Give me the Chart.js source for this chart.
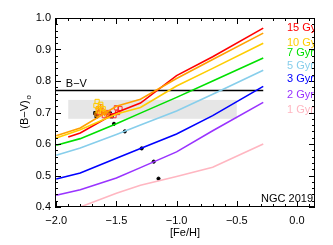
<!DOCTYPE html>
<html>
<head>
<meta charset="utf-8">
<script src="https://cdn.jsdelivr.net/npm/chart.js@4.4.1/dist/chart.umd.min.js"></script>
<style>
  body { margin: 0; background: #fff; }
  canvas { display: block; }
</style>
</head>
<body>
<canvas id="chart" width="333" height="245"></canvas>
<script>
// model grid in [Fe/H]
const feH = [-2.0, -1.9, -1.8, -1.5, -1.3, -1.0, -0.7, -0.28];

// (B-V)o model colours per age
const bv15 = [null, 0.622, 0.635, 0.700, 0.730, 0.817, 0.877, 0.968];
const bv12 = [0.626, null, 0.651, 0.720, 0.742, 0.808, 0.868, 0.952];
const bv10 = [0.619, null, 0.645, 0.695, 0.716, 0.784, 0.840, 0.920];
const bv7 = [0.596, null, 0.617, 0.664, 0.698, 0.748, 0.800, 0.873];
const bv5 = [0.564, null, 0.587, 0.630, 0.660, 0.705, 0.758, 0.834];
const bv3 = [0.489, null, 0.508, 0.555, 0.586, 0.632, 0.690, 0.783];
const bv2 = [0.437, null, 0.455, 0.492, 0.525, 0.575, 0.642, 0.732];
const bv1 = [0.370, null, 0.400, 0.444, 0.469, 0.497, 0.526, 0.600];

const ageLabels = ['15 Gyr', '10 Gyr', '7 Gyr', '5 Gyr', '3 Gyr', '2 Gyr', '1 Gyr'];

// observed B-V of the cluster and its band
const obsBV = 0.77;
const obsFeH = [-2.01, -0.28];
const bandFeH = [-1.9, -0.5];
const bandBV = [0.68, 0.74];

// black dots on each age line
const dotFeH = [-1.52, -1.43, -1.29, -1.19, -1.15];
const dotBV = [0.664, 0.640, 0.586, 0.544, 0.490];

// measurements of NGC 2019
const blkFeH = [-1.675, -1.665, -1.555, -1.54];
const blkBV = [0.698, 0.688, 0.697, 0.688];
const redFeH = [-1.64, -1.60, -1.57, -1.55, -1.50, -1.49, -1.52, -1.47];
const redBV = [0.700, 0.690, 0.700, 0.690, 0.715, 0.700, 0.690, 0.712];
const orgFeH = [-1.65, -1.62, -1.60, -1.58, -1.66, -1.63];
const orgBV = [0.712, 0.705, 0.700, 0.695, 0.695, 0.718];
const gldFeH = [-1.66, -1.67, -1.63, -1.61, -1.65];
const gldBV = [0.735, 0.722, 0.726, 0.712, 0.705];

const xTicks = [-2.0, -1.5, -1.0, -0.5, 0.0];
const yTicks = [0.4, 0.5, 0.6, 0.7, 0.8, 0.9, 1.0];

const pts = (xs, ys) => xs.map((x, i) => ({ x: x, y: ys[i] }));

function modelLine(ys, color) {
    return {
        data: pts(feH, ys),
        showLine: true,
        spanGaps: true,
        borderColor: color,
        borderWidth: 1.6,
        pointRadius: 0,
        clip: 0,
    };
}

function marks(xs, ys, color, style, r, fill) {
    return {
        data: pts(xs, ys),
        showLine: false,
        pointStyle: style,
        pointRadius: r,
        borderColor: color,
        backgroundColor: fill ? color : 'rgba(0,0,0,0)',
        borderWidth: 1,
        clip: 0,
    };
}

const lineColors = ['#ff0000', '#ffa000', '#ffcc00', '#00e000', '#87ceeb', '#0000ff', '#9933ff', '#ffb6c1'];
const labelColors = ['#ff0000', '#ffcc00', '#00e000', '#87ceeb', '#0000ff', '#9933ff', '#ffb6c1'];
const labelY = [28, 43, 53, 66, 79, 95, 110];

const FONT = '11px "Liberation Sans", Arial, sans-serif';
const fmt = v => (v < 0 ? '\u2212' : '') + Math.abs(v).toFixed(1);

const idlAxes = {
    id: 'idlAxes',
    beforeDatasetsDraw(chart) {
        const { ctx, scales: { x, y } } = chart;
        ctx.save();
        ctx.fillStyle = '#e6e6e6';
        const x0 = x.getPixelForValue(bandFeH[0]), x1 = x.getPixelForValue(bandFeH[1]);
        const y0 = y.getPixelForValue(bandBV[1]), y1 = y.getPixelForValue(bandBV[0]);
        ctx.fillRect(x0, y0, x1 - x0, y1 - y0);
        ctx.restore();
    },
    afterDatasetsDraw(chart) {
        const { ctx, chartArea: a, scales: { x, y } } = chart;
        ctx.save();
        ctx.strokeStyle = '#000';
        ctx.lineWidth = 1;
        ctx.strokeRect(a.left + 0.5, a.top + 0.5, a.right - a.left - 1, a.bottom - a.top - 1);

        ctx.beginPath();
        // x ticks, major 0.5, minor 0.1
        for (let i = -20; i <= 1; i++) {
            const v = i / 10;
            const px = Math.round(x.getPixelForValue(v)) + 0.5;
            if (px < a.left || px > a.right) continue;
            const len = (i % 5 === 0) ? 6 : 3;
            ctx.moveTo(px, a.bottom); ctx.lineTo(px, a.bottom - len);
            ctx.moveTo(px, a.top); ctx.lineTo(px, a.top + len);
        }
        // y ticks, major 0.1, minor 0.02
        for (let i = 20; i <= 50; i++) {
            const v = i / 50;
            const py = Math.round(y.getPixelForValue(v)) + 0.5;
            const len = (i % 5 === 0) ? 6 : 3;
            ctx.moveTo(a.left, py); ctx.lineTo(a.left + len, py);
            ctx.moveTo(a.right, py); ctx.lineTo(a.right - len, py);
        }
        ctx.stroke();

        ctx.fillStyle = '#000';
        ctx.font = FONT;
        ctx.textAlign = 'center';
        ctx.textBaseline = 'middle';
        xTicks.forEach(v => ctx.fillText(fmt(v), x.getPixelForValue(v), a.bottom + 14));
        ctx.textAlign = 'right';
        yTicks.forEach(v => ctx.fillText(fmt(v), a.left - 4, y.getPixelForValue(v)));

        // axis titles
        ctx.textAlign = 'center';
        ctx.fillText('[Fe/H]', (a.left + a.right) / 2, a.bottom + 26);
        ctx.save();
        ctx.translate(25, (a.top + a.bottom) / 2);
        ctx.rotate(-Math.PI / 2);
        ctx.textAlign = 'center';
        ctx.fillText('(B\u2212V)', -2, 0);
        const w = ctx.measureText('(B\u2212V)').width;
        ctx.font = '8px "Liberation Sans", Arial, sans-serif';
        ctx.fillText('o', w / 2 + 1, 4);
        ctx.restore();

        // texts inside plot
        ctx.font = FONT;
        ctx.textAlign = 'left';
        ctx.fillText('B\u2212V', x.getPixelForValue(-1.92), y.getPixelForValue(obsBV) - 6);
        ctx.textAlign = 'right';
        ctx.fillText('NGC 2019', a.right - 2, a.bottom - 8);

        ctx.beginPath();
        ctx.rect(a.left, a.top, a.right - a.left - 1, a.bottom - a.top);
        ctx.clip();
        ctx.textAlign = 'left';
        ageLabels.forEach((t, i) => {
            ctx.fillStyle = labelColors[i];
            ctx.fillText(t, a.right - 28, labelY[i]);
        });
        ctx.restore();
    }
};

new Chart(document.getElementById('chart'), {
    type: 'scatter',
    data: {
        datasets: [
            modelLine(bv1, lineColors[7]),
            modelLine(bv2, lineColors[6]),
            modelLine(bv3, lineColors[5]),
            modelLine(bv5, lineColors[4]),
            modelLine(bv7, lineColors[3]),
            modelLine(bv10, lineColors[2]),
            modelLine(bv12, lineColors[1]),
            modelLine(bv15, lineColors[0]),
            {
                data: pts(obsFeH, [obsBV, obsBV]),
                showLine: true,
                borderColor: '#000',
                borderWidth: 1.5,
                pointRadius: 0,
                clip: 0,
            },
            marks(gldFeH, gldBV, '#ffcc00', 'rect', 3, false),
            marks(orgFeH, orgBV, '#ff9900', 'rect', 3, false),
            marks(redFeH, redBV, '#ff3030', 'rect', 3, false),
            marks(orgFeH, orgBV, '#ff6600', 'cross', 3, false),
            marks(blkFeH, blkBV, '#000', 'rect', 2.2, true),
            marks(dotFeH, dotBV, '#000', 'circle', 1.6, true),
        ],
    },
    options: {
        responsive: false,
        animation: false,
        devicePixelRatio: 1,
        layout: { padding: { left: 55, top: 18, right: 18, bottom: 38 } },
        scales: {
            x: { type: 'linear', min: -2.01, max: 0.15, display: false },
            y: { type: 'linear', min: 0.4, max: 1.0, display: false },
        },
        plugins: {
            legend: { display: false },
            tooltip: { enabled: false },
        },
    },
    plugins: [idlAxes],
});
</script>
</body>
</html>
